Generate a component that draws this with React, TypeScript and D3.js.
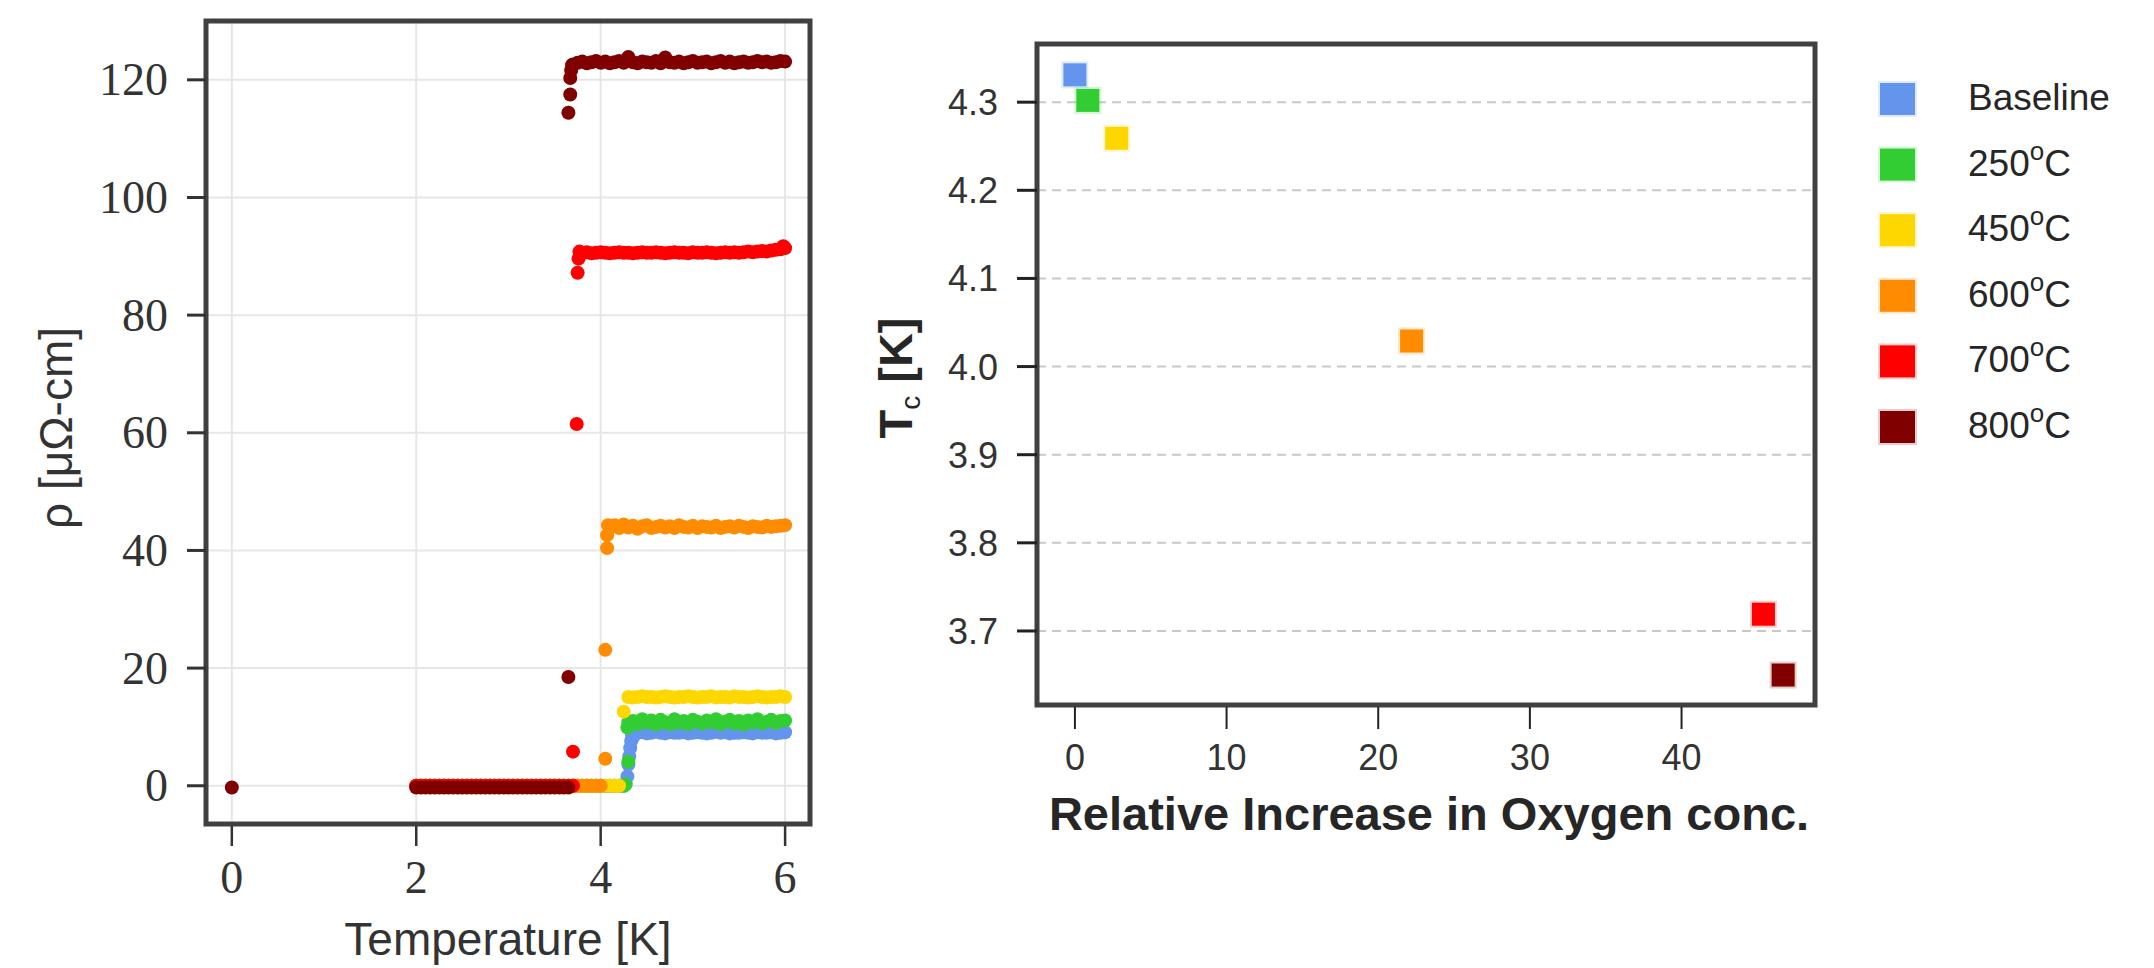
import React from "react";
import * as d3 from "d3";

// ---- left panel: resistivity vs temperature (0.05 K measurement grid) ----
const temperatureK = [
  2.0, 2.05, 2.1, 2.15, 2.2, 2.25, 2.3, 2.35, 2.4, 2.45,
  2.5, 2.55, 2.6, 2.65, 2.7, 2.75, 2.8, 2.85, 2.9, 2.95,
  3.0, 3.05, 3.1, 3.15, 3.2, 3.25, 3.3, 3.35, 3.4, 3.45,
  3.5, 3.55, 3.6, 3.65, 3.7, 3.75, 3.8, 3.85, 3.9, 3.95,
  4.0, 4.05, 4.1, 4.15, 4.2, 4.25, 4.3, 4.35, 4.4, 4.45,
  4.5, 4.55, 4.6, 4.65, 4.7, 4.75, 4.8, 4.85, 4.9, 4.95,
  5.0, 5.05, 5.1, 5.15, 5.2, 5.25, 5.3, 5.35, 5.4, 5.45,
  5.5, 5.55, 5.6, 5.65, 5.7, 5.75, 5.8, 5.85, 5.9, 5.95,
  6.0,
];

const rhoBaseline = [
  0, 0, 0, 0, 0, 0, 0, 0, 0, 0,
  0, 0, 0, 0, 0, 0, 0, 0, 0, 0,
  0, 0, 0, 0, 0, 0, 0, 0, 0, 0,
  0, 0, 0, 0, 0, 0, 0, 0, 0, 0,
  0, 0, 0, 0, 0, 0, 3.6, 8.2,
  9.0, 9.1, 8.9, 9.0, 9.2, 9.0, 8.9, 9.1, 9.0, 9.0,
  9.1, 8.9, 9.0, 9.1, 9.0, 8.9, 9.0, 9.2, 9.0, 9.1,
  8.9, 9.0, 9.0, 9.1, 9.0, 8.9, 9.1, 9.0, 9.0, 9.1,
  8.9, 9.0, 9.1,
];
const rho250 = [
  0, 0, 0, 0, 0, 0, 0, 0, 0, 0,
  0, 0, 0, 0, 0, 0, 0, 0, 0, 0,
  0, 0, 0, 0, 0, 0, 0, 0, 0, 0,
  0, 0, 0, 0, 0, 0, 0, 0, 0, 0,
  0, 0, 0, 0, 0, 0, 10.8,
  11.0, 10.5, 11.3, 10.7, 11.1, 10.4, 11.2, 10.8, 10.5, 11.3,
  10.7, 11.0, 10.5, 11.2, 10.9, 10.6, 11.1, 10.8, 11.3, 10.5,
  10.9, 11.2, 10.6, 11.0, 10.4, 11.1, 10.8, 11.3, 10.6, 10.9,
  11.2, 10.7, 11.0, 11.1,
];
const rho450 = [
  0, 0, 0, 0, 0, 0, 0, 0, 0, 0,
  0, 0, 0, 0, 0, 0, 0, 0, 0, 0,
  0, 0, 0, 0, 0, 0, 0, 0, 0, 0,
  0, 0, 0, 0, 0, 0, 0, 0, 0, 0,
  0, 0, 0, 0, 0, 12.6,
  15.1, 15.0, 15.1, 15.2, 15.1, 15.1, 15.0, 15.1, 15.2, 15.1,
  15.0, 15.1, 15.1, 15.2, 15.1, 15.0, 15.1, 15.1, 15.2, 15.0,
  15.1, 15.1, 15.0, 15.2, 15.1, 15.1, 15.0, 15.1, 15.2, 15.1,
  15.0, 15.1, 15.1, 15.2, 15.1,
];
const rho600 = [
  0, 0, 0, 0, 0, 0, 0, 0, 0, 0,
  0, 0, 0, 0, 0, 0, 0, 0, 0, 0,
  0, 0, 0, 0, 0, 0, 0, 0, 0, 0,
  0, 0, 0, 0, 0, 0, 0, 0, 0, 0,
  0, 23.1, 43.9,
  44.3, 43.8, 44.4, 43.9, 44.2, 43.7, 44.1, 44.3, 43.8, 44.0,
  44.2, 43.9, 44.1, 43.8, 44.3, 44.0, 43.9, 44.2, 43.8, 44.1,
  44.0, 43.9, 44.2, 43.8, 44.0, 44.1, 43.9, 44.2, 44.0, 43.8,
  44.1, 44.0, 43.9, 44.2, 44.0, 44.1, 44.2, 44.3,
];
const rho700 = [
  0, 0, 0, 0, 0, 0, 0, 0, 0, 0,
  0, 0, 0, 0, 0, 0, 0, 0, 0, 0,
  0, 0, 0, 0, 0, 0, 0, 0, 0, 0,
  0, 0, 0, 0, 0, 87.2,
  90.6, 90.7, 90.5, 90.6, 90.7, 90.6, 90.5, 90.6, 90.7, 90.6,
  90.6, 90.5, 90.6, 90.7, 90.6, 90.6, 90.7, 90.6, 90.5, 90.6,
  90.7, 90.6, 90.6, 90.5, 90.7, 90.6, 90.6, 90.7, 90.6, 90.5,
  90.6, 90.7, 90.6, 90.7, 90.6, 90.7, 90.8, 90.7, 90.8, 90.9,
  90.8, 91.0, 91.1, 91.2, 91.4,
];
const rho800 = [
  -0.3, -0.3, -0.3, -0.3, -0.3, -0.3, -0.3, -0.3, -0.3, -0.3,
  -0.3, -0.3, -0.3, -0.3, -0.3, -0.3, -0.3, -0.3, -0.3, -0.3,
  -0.3, -0.3, -0.3, -0.3, -0.3, -0.3, -0.3, -0.3, -0.3, -0.3,
  -0.3, -0.3, -0.3, -0.3, 122.6,
  122.9, 123.1, 122.8, 123.0, 123.2, 122.9, 123.1, 122.8, 123.0, 123.2,
  122.9, 123.9, 123.0, 122.8, 123.1, 123.0, 122.9, 123.2, 122.8, 123.8,
  123.0, 122.9, 123.1, 122.8, 123.0, 123.2, 122.9, 123.0, 123.1, 122.8,
  123.0, 123.2, 122.9, 123.1, 122.8, 123.0, 123.1, 122.9, 123.0, 123.2,
  123.0, 123.1, 122.9, 123.0, 123.2, 123.1,
];

// extra points off the grid (transition region), [T, rho]
const extraBaseline = [[4.27, 0.4], [4.29, 1.6], [4.31, 5.0], [4.32, 6.4], [4.33, 7.6], [4.34, 8.6]];
const extra250 = [[4.27, 0.2], [4.3, 4.1], [4.29, 9.9]];
const extra450 = [[4.17, 0]];
const extra600 = [[4.05, 4.6], [4.07, 40.4], [4.07, 42.6], [4.08, 44.3]];
const extra700 = [[3.7, 5.8], [3.74, 61.5], [3.76, 89.6], [3.77, 90.8], [5.98, 91.7]];
const extra800 = [[0, -0.3], [3.65, 18.5], [3.65, 114.4], [3.67, 117.5], [3.67, 120.3], [3.68, 121.6], [3.69, 122.5]];

// ---- right panel: Tc vs oxygen increase ----
const sampleNames = ["Baseline", "250", "450", "600", "700", "800"];
const sampleColors = ["#6495ED", "#32CD32", "#FFD700", "#FF8C00", "#FF0000", "#800000"];
const oxygenIncrease = [0, 0.85, 2.75, 22.2, 45.4, 46.7];
const tcK = [4.331, 4.302, 4.259, 4.029, 3.719, 3.65];

const rhoSeries = [rhoBaseline, rho250, rho450, rho600, rho700, rho800];
const extraSeries = [extraBaseline, extra250, extra450, extra600, extra700, extra800];

const App = () => {
  const xL = d3.scaleLinear().domain([-0.28, 6.27]).range([206, 810]);
  const yL = d3.scaleLinear().domain([-6.5, 130]).range([824, 21]);
  const xR = d3.scaleLinear().domain([-2.5, 48.8]).range([1037, 1815]);
  const yR = d3.scaleLinear().domain([3.616, 4.366]).range([705, 44]);

  const serif = "'Liberation Serif', 'Times New Roman', serif";
  const sans = "'Liberation Sans', Arial, sans-serif";
  const ink = "#333";
  const frame = "#404040";

  const seriesPoints = rhoSeries.map((rho, s) => [
    ...temperatureK.map((t, i) => [t, rho[i]]),
    ...extraSeries[s],
  ]);

  return (
    <svg width={2154} height={968} style={{ position: "absolute", left: 0, top: 0, background: "#fff" }}>
      {/* left panel grid */}
      {xL.ticks(4).map((t) => (
        <line key={"gx" + t} x1={xL(t)} x2={xL(t)} y1={21} y2={824} stroke="#e6e6e6" strokeWidth={2} />
      ))}
      {yL.ticks(7).map((t) => (
        <line key={"gy" + t} x1={206} x2={810} y1={yL(t)} y2={yL(t)} stroke="#e6e6e6" strokeWidth={2} />
      ))}
      {seriesPoints.map((pts, s) => (
        <g key={"s" + s} fill={sampleColors[s]}>
          {pts.map((d, i) => (
            <circle key={i} cx={xL(d[0])} cy={yL(d[1])} r={7} />
          ))}
        </g>
      ))}
      <rect x={206} y={21} width={604} height={803} fill="none" stroke={frame} strokeWidth={5} />
      {yL.ticks(7).map((t) => (
        <g key={"yt" + t}>
          <line x1={187} x2={206} y1={yL(t)} y2={yL(t)} stroke={ink} strokeWidth={3} />
          <text x={168} y={yL(t)} dy="0.34em" textAnchor="end" fontFamily={serif} fontSize={46} fill={ink}>
            {t}
          </text>
        </g>
      ))}
      {xL.ticks(4).map((t) => (
        <g key={"xt" + t}>
          <line x1={xL(t)} x2={xL(t)} y1={826} y2={846} stroke={ink} strokeWidth={2.5} />
          <text x={xL(t)} y={893} textAnchor="middle" fontFamily={serif} fontSize={46} fill={ink}>
            {t}
          </text>
        </g>
      ))}
      <text x={508} y={955} textAnchor="middle" fontFamily={sans} fontSize={46} fill={ink}>
        Temperature [K]
      </text>
      <text transform="translate(72,428) rotate(-90)" textAnchor="middle" fontFamily={sans} fontSize={46} fill={ink}>
        ρ [μΩ-cm]
      </text>

      {/* right panel */}
      {yR.ticks(8).map((t) => (
        <line key={"rg" + t} x1={1037} x2={1815} y1={yR(t)} y2={yR(t)} stroke="#c8c8c8" strokeWidth={2} strokeDasharray="9,6" />
      ))}
      {oxygenIncrease.map((v, i) => (
        <rect
          key={"pt" + i}
          x={xR(v) - 11.5}
          y={yR(tcK[i]) - 11.5}
          width={23}
          height={23}
          fill={sampleColors[i]}
          stroke={sampleColors[i]}
          strokeOpacity={0.2}
          strokeWidth={4}
        />
      ))}
      <rect x={1037} y={44} width={778} height={661} fill="none" stroke={frame} strokeWidth={5} />
      {yR.ticks(8).map((t) => (
        <g key={"ryt" + t}>
          <line x1={1017} x2={1037} y1={yR(t)} y2={yR(t)} stroke="#222" strokeWidth={3} />
          <text x={998} y={yR(t)} dy="0.36em" textAnchor="end" fontFamily={sans} fontSize={36} fill={ink}>
            {t.toFixed(1)}
          </text>
        </g>
      ))}
      {xR.ticks(5).map((t) => (
        <g key={"rxt" + t}>
          <line x1={xR(t)} x2={xR(t)} y1={707} y2={729} stroke="#222" strokeWidth={2} />
          <text x={xR(t)} y={770} textAnchor="middle" fontFamily={sans} fontSize={36} fill={ink}>
            {t}
          </text>
        </g>
      ))}
      <text x={1429} y={830} textAnchor="middle" fontFamily={sans} fontSize={47} fontWeight="bold" fill="#262626">
        Relative Increase in Oxygen conc.
      </text>
      <text transform="translate(912,378) rotate(-90)" textAnchor="middle" fontFamily={sans} fontSize={47} fill="#262626">
        <tspan fontWeight="bold">T</tspan>
        <tspan fontSize={28} dy={8}>c</tspan>
        <tspan fontWeight="bold" dy={-8}> [K]</tspan>
      </text>

      {/* legend */}
      {sampleNames.map((name, i) => {
        const cy = 99 + i * 65.6;
        return (
          <g key={"lg" + i}>
            <rect
              x={1880}
              y={cy - 16}
              width={35}
              height={32}
              fill={sampleColors[i]}
              stroke={sampleColors[i]}
              strokeOpacity={0.2}
              strokeWidth={4}
            />
            <text x={1968} y={cy + 11} fontFamily={sans} fontSize={37} fill="#262626">
              {i === 0 ? (
                name
              ) : (
                <>
                  {name}
                  <tspan fontSize={26} dy={-16}>o</tspan>
                  <tspan dy={16}>C</tspan>
                </>
              )}
            </text>
          </g>
        );
      })}
    </svg>
  );
};

export default App;
